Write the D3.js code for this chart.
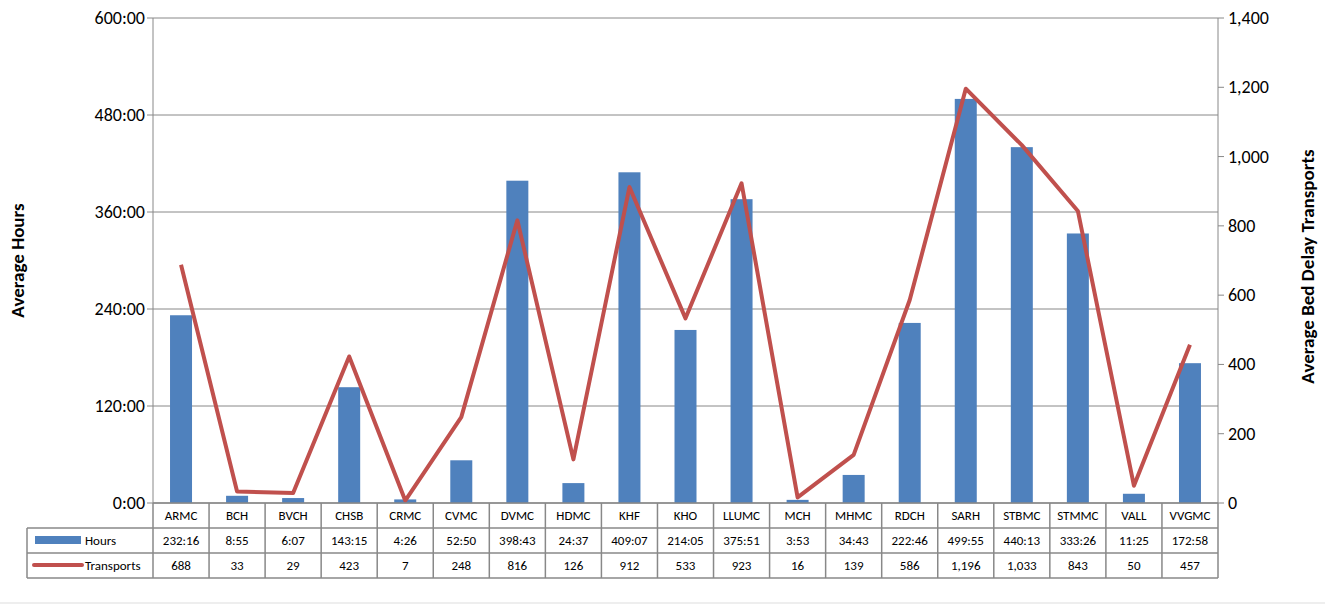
<!DOCTYPE html>
<html><head><meta charset="utf-8">
<script src="https://cdn.jsdelivr.net/npm/d3@7"></script>
<style>body{margin:0;background:#fff}text{font-family:Carlito,"Liberation Sans",Arial,sans-serif}</style>
</head><body><svg width="1325" height="605"></svg>
<script>
const categories = ["ARMC","BCH","BVCH","CHSB","CRMC","CVMC","DVMC","HDMC","KHF","KHO","LLUMC","MCH","MHMC","RDCH","SARH","STBMC","STMMC","VALL","VVGMC"];
const hoursLabels = ["232:16","8:55","6:07","143:15","4:26","52:50","398:43","24:37","409:07","214:05","375:51","3:53","34:43","222:46","499:55","440:13","333:26","11:25","172:58"];
const transports = [688,33,29,423,7,248,816,126,912,533,923,16,139,586,1196,1033,843,50,457];
const leftTicks = [0,120,240,360,480,600];
const rightTicks = [0,200,400,600,800,1000,1200,1400];

const hours = hoursLabels.map(s => { const [h,m] = s.split(":").map(Number); return h + m/60; });
const svg = d3.select("svg");
const L = 153, R = 1218, T = 18, B = 503;
const x = d3.scaleBand().domain(categories).range([L,R]);
const yL = d3.scaleLinear().domain([0,600]).range([B,T]);
const yR = d3.scaleLinear().domain([0,1400]).range([B,T]);
const grey = "#888";

svg.append("g").selectAll("line").data(leftTicks).join("line")
  .attr("x1", L).attr("x2", R).attr("y1", d => yL(d)).attr("y2", d => yL(d))
  .attr("stroke", grey).attr("stroke-width", 1);

svg.append("g").selectAll("rect").data(hours).join("rect")
  .attr("x", (d,i) => x(categories[i]) + x.bandwidth()/2 - 11).attr("width", 22)
  .attr("y", d => yL(d)).attr("height", d => B - yL(d)).attr("fill", "#4f81bd");

svg.append("path").datum(transports)
  .attr("d", d3.line().x((d,i) => x(categories[i]) + x.bandwidth()/2).y(d => yR(d)))
  .attr("fill", "none").attr("stroke", "#c0504d").attr("stroke-width", 4).attr("stroke-linejoin", "round");

// axes lines
svg.append("line").attr("x1", L).attr("x2", L).attr("y1", T).attr("y2", B).attr("stroke", grey);
svg.append("line").attr("x1", R).attr("x2", R).attr("y1", T).attr("y2", B).attr("stroke", grey);
leftTicks.forEach(t => {
  svg.append("line").attr("x1", L-6).attr("x2", L).attr("y1", yL(t)).attr("y2", yL(t)).attr("stroke", grey);
  svg.append("text").attr("x", L-8).attr("y", yL(t)+6).attr("text-anchor", "end").attr("font-size", 18).text(t + ":00");
});
rightTicks.forEach(t => {
  svg.append("line").attr("x1", R).attr("x2", R+6).attr("y1", yR(t)).attr("y2", yR(t)).attr("stroke", grey);
  svg.append("text").attr("x", R+10).attr("y", yR(t)+6).attr("font-size", 18).text(d3.format(",")(t));
});
svg.append("text").attr("transform", `translate(24,${(T+B)/2}) rotate(-90)`).attr("text-anchor", "middle")
  .attr("font-size", 19).attr("font-weight", "bold").text("Average Hours");
svg.append("text").attr("transform", `translate(1314,${(T+B)/2 + 6}) rotate(-90)`).attr("text-anchor", "middle")
  .attr("font-size", 19).attr("font-weight", "bold").text("Average Bed Delay Transports");

// data table
const r0 = B, r1 = 528, r2 = 553, r3 = 578, TL = 27;
const tg = svg.append("g").attr("stroke", grey).attr("stroke-width", 1.5);
tg.append("line").attr("x1", L).attr("x2", R).attr("y1", r0).attr("y2", r0);
[r1, r2, r3].forEach(y => tg.append("line").attr("x1", TL).attr("x2", R).attr("y1", y).attr("y2", y));
tg.append("line").attr("x1", TL).attr("x2", TL).attr("y1", r1).attr("y2", r3);
categories.forEach(c => tg.append("line").attr("x1", x(c)).attr("x2", x(c)).attr("y1", r0).attr("y2", r3));
tg.append("line").attr("x1", R).attr("x2", R).attr("y1", r0).attr("y2", r3);
categories.forEach((c,i) => {
  const cx = x(c) + x.bandwidth()/2;
  svg.append("text").attr("x", cx).attr("y", r0+17).attr("text-anchor", "middle").attr("font-size", 13).text(c);
  svg.append("text").attr("x", cx).attr("y", r1+17).attr("text-anchor", "middle").attr("font-size", 13).text(hoursLabels[i]);
  svg.append("text").attr("x", cx).attr("y", r2+17).attr("text-anchor", "middle").attr("font-size", 13).text(d3.format(",")(transports[i]));
});
svg.append("rect").attr("x", 35).attr("y", r1+8).attr("width", 46).attr("height", 8).attr("fill", "#4f81bd");
svg.append("text").attr("x", 85).attr("y", r1+17).attr("font-size", 13).text("Hours");
svg.append("line").attr("x1", 34).attr("x2", 82).attr("y1", r2+12).attr("y2", r2+12)
  .attr("stroke", "#c0504d").attr("stroke-width", 4).attr("stroke-linecap", "round");
svg.append("text").attr("x", 85).attr("y", r2+17).attr("font-size", 13).text("Transports");
svg.append("line").attr("x1", 0).attr("x2", 1325).attr("y1", 603).attr("y2", 603).attr("stroke", "#ddd");
</script></body></html>
